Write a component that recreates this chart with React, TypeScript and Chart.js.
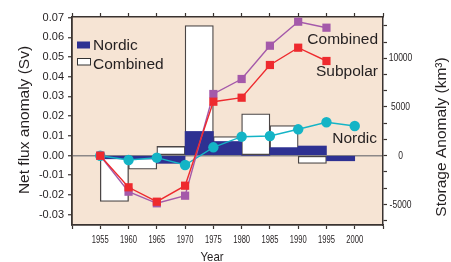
import React, { useEffect, useRef } from "react";
import { Chart, registerables } from "chart.js";

Chart.register(...registerables);

// ---------- data ----------
const COMBINED_BIN_CENTERS = [1957.5, 1962.5, 1967.5, 1972.5, 1977.5, 1982.5, 1987.5, 1992.5];
const COMBINED_FLUX = [-0.0233, -0.007, 0.0046, 0.066, 0.0096, 0.0212, 0.0152, -0.004];

const NORDIC_BIN_CENTERS = [1957.5, 1962.5, 1967.5, 1972.5, 1977.5, 1982.5, 1987.5, 1992.5, 1997.5];
const NORDIC_FLUX = [-0.0017, -0.0018, -0.004, 0.0122, 0.0071, 0.0, 0.004, 0.0048, -0.0027];

const STORAGE_YEARS = [1955, 1960, 1965, 1970, 1975, 1980, 1985, 1990, 1995];
const SUBPOLAR_STORAGE = [0, -3244, -4723, -3080, 5544, 5955, 9312, 11088, 9723];
const COMBINED_STORAGE = [0, -3696, -4887, -4107, 6335, 7875, 11294, 13758, 13142];

const NORDIC_STORAGE_YEARS = [1955, 1960, 1965, 1970, 1975, 1980, 1985, 1990, 1995, 2000];
const NORDIC_STORAGE = [0, -441, -205, -955, 862, 1951, 2022, 2710, 3429, 3049];

const X_TICKS = [1950, 1955, 1960, 1965, 1970, 1975, 1980, 1985, 1990, 1995, 2000, 2005];
const X_LABELS = [1955, 1960, 1965, 1970, 1975, 1980, 1985, 1990, 1995, 2000];
const FLUX_TICKS = [-0.03, -0.02, -0.01, 0, 0.01, 0.02, 0.03, 0.04, 0.05, 0.06, 0.07];
const STORAGE_TICKS = [-6666.67, -5000, -3333.33, -1666.67, 0, 1666.67, 3333.33, 5000, 6666.67, 8333.33, 10000, 11666.67, 13333.33];
const STORAGE_LABELS = [-5000, 0, 5000, 10000];

// ---------- style ----------
const SANS = '"Liberation Sans", Arial, Helvetica, sans-serif';
const TEXT = "#231f20";
const BG = "#f6e4d4";
const NAVY = "#2e3192";
const FRAME = "#3a3330";
const PURPLE = "#a459aa";
const RED = "#ee2a2e";
const CYAN = "#14b4c6";

const decor = {
  id: "decor",
  beforeDraw(chart: any) {
    const { ctx, chartArea: a } = chart;
    ctx.save();
    ctx.fillStyle = BG;
    ctx.fillRect(a.left, a.top, a.right - a.left, a.bottom - a.top);
    ctx.restore();
  },
  afterDraw(chart: any) {
    const ctx = chart.ctx;
    const xs = chart.scales.x;
    const y2 = chart.scales.y2;
    ctx.save();
    ctx.fillStyle = TEXT;

    // condensed tick labels (bottom and right axes)
    ctx.font = `11.5px ${SANS}`;
    ctx.textAlign = "center";
    ctx.textBaseline = "middle";
    X_LABELS.forEach((v) => {
      ctx.save();
      ctx.translate(xs.getPixelForValue(v), 239.5);
      ctx.scale(0.66, 1);
      ctx.fillText(String(v), 0, 0);
      ctx.restore();
    });
    STORAGE_LABELS.forEach((v) => {
      ctx.save();
      ctx.translate(400.5, y2.getPixelForValue(v));
      ctx.scale(0.74, 1);
      ctx.fillText(String(v), 0, 0);
      ctx.restore();
    });

    // legend
    ctx.fillStyle = NAVY;
    ctx.fillRect(77, 41.5, 13, 7);
    ctx.fillStyle = "#ffffff";
    ctx.fillRect(77.5, 58.5, 13, 6.5);
    ctx.strokeStyle = "#333";
    ctx.lineWidth = 1;
    ctx.strokeRect(77.5, 58.5, 13, 6.5);
    ctx.fillStyle = TEXT;
    ctx.font = `15.5px ${SANS}`;
    ctx.textBaseline = "alphabetic";
    ctx.textAlign = "left";
    ctx.fillText("Nordic", 93, 50);
    ctx.fillText("Combined", 93, 69);
    // series labels
    ctx.textAlign = "right";
    ctx.fillText("Combined", 378, 44);
    ctx.fillText("Subpolar", 378, 76);
    ctx.fillText("Nordic", 377, 143);
    // axis titles
    ctx.textAlign = "center";
    ctx.textBaseline = "middle";
    ctx.save();
    ctx.translate(25, 120);
    ctx.rotate(-Math.PI / 2);
    ctx.fillText("Net flux anomaly (Sv)", 0, 0);
    ctx.restore();
    ctx.save();
    ctx.translate(442, 137);
    ctx.rotate(-Math.PI / 2);
    ctx.fillText("Storage Anomaly (km³)", 0, 0);
    ctx.restore();
    ctx.font = `13px ${SANS}`;
    ctx.textBaseline = "alphabetic";
    ctx.save();
    ctx.translate(212, 261);
    ctx.scale(0.88, 1);
    ctx.fillText("Year", 0, 0);
    ctx.restore();
    ctx.restore();
  },
};

export default function App() {
  const ref = useRef<HTMLCanvasElement | null>(null);

  useEffect(() => {
    document.body.style.margin = "0";
    const canvas = ref.current;
    if (!canvas) return;

    const pts = (xs: number[], ys: number[]) => xs.map((x, i) => ({ x, y: ys[i] }));

    const chart = new Chart(canvas, {
      type: "bar",
      data: {
        datasets: [
          {
            type: "line",
            label: "Subpolar",
            data: pts(STORAGE_YEARS, SUBPOLAR_STORAGE),
            xAxisID: "x",
            yAxisID: "y2",
            borderColor: RED,
            backgroundColor: RED,
            borderWidth: 1.4,
            pointStyle: "rect",
            pointRadius: 5.8,
            pointBorderWidth: 0,
            pointBackgroundColor: RED,
            order: 1,
          } as any,
          {
            type: "line",
            label: "Combined storage",
            data: pts(STORAGE_YEARS, COMBINED_STORAGE),
            xAxisID: "x",
            yAxisID: "y2",
            borderColor: PURPLE,
            backgroundColor: PURPLE,
            borderWidth: 1.4,
            pointStyle: "rect",
            pointRadius: 5.8,
            pointBorderWidth: 0,
            pointBackgroundColor: PURPLE,
            order: 2,
          } as any,
          {
            type: "line",
            label: "Nordic storage",
            data: pts(NORDIC_STORAGE_YEARS, NORDIC_STORAGE),
            xAxisID: "x",
            yAxisID: "y2",
            borderColor: CYAN,
            backgroundColor: CYAN,
            borderWidth: 1.4,
            pointStyle: "circle",
            pointRadius: 5.2,
            pointBorderWidth: 0,
            pointBackgroundColor: CYAN,
            order: 3,
          } as any,
          {
            type: "bar",
            label: "Nordic",
            data: pts(NORDIC_BIN_CENTERS, NORDIC_FLUX),
            xAxisID: "x",
            yAxisID: "y",
            backgroundColor: NAVY,
            borderWidth: 0,
            grouped: false,
            barPercentage: 1,
            categoryPercentage: 1,
            order: 10,
          } as any,
          {
            type: "bar",
            label: "Combined",
            data: pts(COMBINED_BIN_CENTERS, COMBINED_FLUX),
            xAxisID: "x",
            yAxisID: "y",
            backgroundColor: "#ffffff",
            borderColor: "#4a4545",
            borderWidth: 1.3,
            borderSkipped: false,
            grouped: false,
            barPercentage: 1,
            categoryPercentage: 1,
            order: 11,
          } as any,
        ],
      },
      options: {
        responsive: false,
        maintainAspectRatio: false,
        animation: false,
        layout: { padding: 0, autoPadding: false } as any,
        plugins: {
          legend: { display: false },
          tooltip: { enabled: false },
        },
        scales: {
          x: {
            type: "linear",
            position: "bottom",
            min: 1950,
            max: 2005,
            offset: false,
            afterBuildTicks: (s: any) => {
              s.ticks = X_TICKS.map((v) => ({ value: v }));
            },
            afterFit: (s: any) => {
              s.height = 37;
            },
            grid: { offset: false, drawOnChartArea: false, drawTicks: true, tickLength: 4, tickColor: FRAME, tickWidth: 1.2 },
            border: { display: true, color: FRAME, width: 1.8 },
            ticks: {
              autoSkip: false,
              maxRotation: 0,
              padding: 5,
              color: TEXT,
              font: { family: SANS, size: 11 },
              callback: () => "",
            },
          },
          xTop: {
            type: "linear",
            position: "top",
            min: 1950,
            max: 2005,
            offset: false,
            afterBuildTicks: (s: any) => {
              s.ticks = X_TICKS.map((v) => ({ value: v }));
            },
            afterFit: (s: any) => {
              s.height = 17;
            },
            grid: { offset: false, drawOnChartArea: false, drawTicks: true, tickLength: 4, tickColor: FRAME, tickWidth: 1.2 },
            border: { display: true, color: FRAME, width: 1.5 },
            ticks: { display: false },
          },
          y: {
            type: "linear",
            position: "left",
            min: -0.0353,
            max: 0.0703,
            afterBuildTicks: (s: any) => {
              s.ticks = FLUX_TICKS.map((v) => ({ value: v }));
            },
            afterFit: (s: any) => {
              s.width = 72;
            },
            grid: {
              drawOnChartArea: true,
              drawTicks: true,
              tickLength: 4,
              tickColor: FRAME,
              tickWidth: 1.2,
              color: (c: any) => (c.tick && Math.abs(c.tick.value) < 1e-9 ? "#8c8888" : "rgba(0,0,0,0)"),
              lineWidth: 1.5,
            },
            border: { display: true, color: FRAME, width: 1.8 },
            ticks: {
              padding: 4,
              color: TEXT,
              font: { family: SANS, size: 11 },
              callback: (v: any) => Number(v).toFixed(2),
            },
          },
          y2: {
            type: "linear",
            position: "right",
            min: -7115,
            max: 14240,
            afterBuildTicks: (s: any) => {
              s.ticks = STORAGE_TICKS.map((v) => ({ value: v }));
            },
            afterFit: (s: any) => {
              s.width = 68;
            },
            grid: { drawOnChartArea: false, drawTicks: true, tickLength: 4, tickColor: FRAME, tickWidth: 1.2 },
            border: { display: true, color: FRAME, width: 1.5 },
            ticks: {
              padding: 4,
              color: TEXT,
              font: { family: SANS, size: 11 },
              callback: () => "",
            },
          },
        },
      } as any,
      plugins: [decor],
    });

    return () => chart.destroy();
  }, []);

  return (
    <div style={{ position: "absolute", left: 0, top: 0, width: 451, height: 262 }}>
      <canvas ref={ref} width={451} height={262} style={{ display: "block" }} />
    </div>
  );
}
